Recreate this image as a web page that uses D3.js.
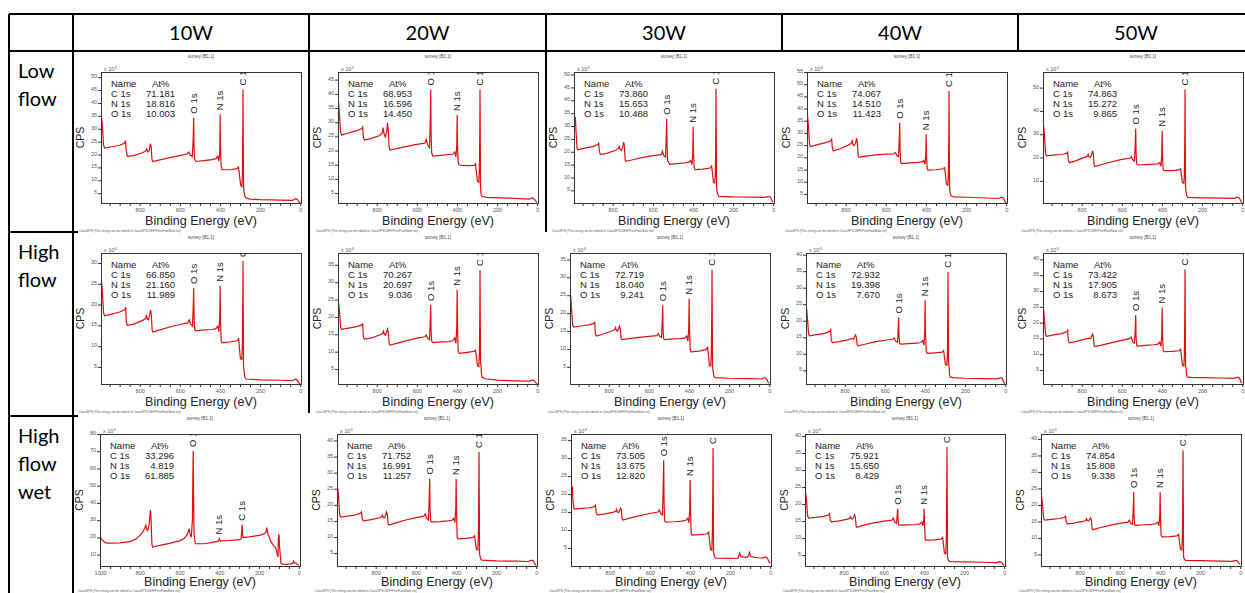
<!DOCTYPE html>
<html><head><meta charset="utf-8">
<script src="https://cdn.jsdelivr.net/npm/d3@7"></script>
<style>body{margin:0;background:#fff}svg{display:block}</style>
</head><body>
<svg id="c" width="1245" height="593"></svg>
<script>
// ---------- DATA ----------
const columns = ["10W", "20W", "30W", "40W", "50W"];
const rowLabels = [["Low", "flow"], ["High", "flow"], ["High", "flow", "wet"]];
const elements = ["C 1s", "N 1s", "O 1s"];
const peakLabels = [["O 1s", 531], ["N 1s", 399], ["C 1s", 285]];
const atC = [71.181, 68.953, 73.860, 74.067, 74.863, 66.850, 70.267, 72.719, 72.932, 73.422, 33.296, 71.752, 73.505, 75.921, 74.854];
const atN = [18.816, 16.596, 15.653, 14.510, 15.272, 21.160, 20.697, 18.040, 19.398, 17.905, 4.819, 16.991, 13.675, 15.650, 15.808];
const atO = [10.003, 14.450, 10.488, 11.423, 9.865, 11.989, 9.036, 9.241, 7.670, 8.673, 61.885, 11.257, 12.820, 8.429, 9.338];
const xTickLabels = [1000, 800, 600, 400, 200, 0];

// spectra: [binding energy (eV), counts (x10^3 CPS)]
const lowFlow10W = [[990,34],[986,31],[980,23.5],[975,22.5],[940,23],[900,23.6],[876,24.4],[871,25.3],[868,22],[862,19.3],[830,19.6],[790,20.6],[770,21.3],[765,22.2],[760,21],[752,21.6],[747,24.2],[743,23.3],[739,18],[735,17.3],[700,17.9],[650,18.8],[600,19.6],[565,20.2],[556,21],[548,19.8],[538,19.2],[533,27],[531,34.3],[529,22],[526,18.2],[520,17.3],[480,17.6],[440,18],[420,18.4],[411,19.3],[405,17.4],[401,21],[399,35.6],[397,22],[394,15.6],[390,14.1],[350,14.1],[315,14.5],[308,15.2],[303,12.3],[297,8.2],[291,7.5],[288,12],[286,30],[285,45.2],[284,30],[282.5,8],[280,5.6],[276,4],[270,3.1],[250,2.7],[200,2.5],[100,2.3],[40,2.2],[22,2.9],[14,2.6],[6,1.6],[0,1.1]];
const lowFlow20W = [[990,37],[986,33],[980,26.5],[975,25.5],[940,26.2],[900,27],[874,27.8],[870,28.3],[867,25],[862,23.7],[830,24.2],[785,25.3],[772,26.3],[768,28.1],[764,26],[757,24.8],[750,26.5],[746,29.8],[742,27],[738,21],[734,20.2],[700,20.7],[650,21.5],[600,22.2],[560,22.6],[553,24],[547,22],[537,21],[533,30],[531,41.5],[529,26],[526,19.2],[520,18],[480,18.3],[440,18.6],[420,18.7],[411,19.5],[405,17.8],[401,22],[399,32.5],[397,21],[394,16],[390,14.9],[350,14.7],[315,14.8],[308,15.3],[303,12.5],[298,9.2],[291,8.8],[288,13],[286,30],[285,41.5],[284,28],[282.5,7],[280,4.6],[275,3.8],[250,3.5],[150,3.2],[40,2.9],[22,3.3],[14,2.8],[6,2.1],[0,1.8]];
const lowFlow30W = [[990,32.5],[986,33],[983,28],[978,21.5],[975,20.8],[940,21.4],[900,22],[874,22.8],[870,23.3],[867,20.5],[862,18.9],[830,19.4],[785,20.6],[772,21.3],[768,22.1],[764,21],[757,20.5],[750,21.8],[746,23.7],[742,22.5],[738,17],[734,16.3],[700,16.9],[650,17.8],[600,18.5],[558,18.9],[552,20.2],[546,18.6],[537,18],[533,26],[531,32.8],[529,22],[526,16.5],[515,15.1],[480,15.4],[440,15.7],[420,16],[411,16.6],[405,15],[401,19],[399,29.7],[397,19],[394,14],[390,13.1],[350,13.3],[315,13.7],[307,14.5],[303,12],[298,8.2],[291,7.9],[288,12],[286,30],[285,44.5],[284,28],[282.5,7],[280,4.6],[275,3.2],[270,2.7],[200,2.5],[100,2.4],[40,2.3],[22,2.7],[14,2.4],[6,1],[0,0.4]];
const lowFlow40W = [[990,36.9],[986,33],[980,25],[975,24.4],[940,25.2],[900,26],[874,26.8],[870,27.4],[867,24],[862,22.7],[830,23.4],[785,25.1],[772,25.8],[768,26.8],[764,25.3],[757,24.8],[750,26],[746,27.9],[742,26],[738,20.6],[734,20],[700,20.5],[650,21],[600,21.3],[560,21.4],[552,22],[546,20.8],[537,20.3],[533,28],[531,34.2],[529,23],[526,18],[520,17.4],[480,17.7],[440,17.9],[420,18.1],[411,18.7],[405,17.2],[401,21],[399,29.5],[397,20],[394,15.6],[390,14.7],[350,14.9],[315,15.3],[307,15.8],[303,13],[298,9],[291,8.6],[288,13],[286,30],[285,47.2],[284,30],[282.5,8],[280,5.5],[275,4.2],[260,3.8],[200,3.6],[100,3.3],[40,3.1],[22,3.6],[14,3.2],[6,1.8],[0,1.2]];
const lowFlow50W = [[990,33.5],[986,30],[980,21.5],[975,20.7],[940,21],[900,21.3],[874,21.8],[870,22.6],[867,19],[862,17.8],[830,18.6],[785,20.2],[772,20.5],[768,21.4],[764,20.3],[757,20.1],[750,21.5],[746,22.9],[742,21.5],[738,16.6],[734,16.1],[700,17],[650,18.2],[600,19.2],[560,19.7],[552,20.4],[546,19],[537,18.5],[533,26],[531,32.5],[529,22],[526,17.3],[520,16.8],[480,17],[440,17.2],[420,17.3],[411,17.8],[405,16.2],[401,21],[399,31.5],[397,20],[394,15],[390,14.4],[350,14.4],[315,14.7],[307,15.2],[303,12.5],[298,9.3],[291,9],[288,13],[286,30],[285,49.2],[284,30],[282.5,7.5],[280,5],[275,3.3],[270,2.9],[200,2.7],[100,2.6],[40,2.5],[22,3],[14,2.6],[6,1.2],[0,0.7]];
const highFlow10W = [[990,25.5],[986,23],[980,18],[975,17.3],[940,17.7],[900,18.2],[874,18.8],[870,19.4],[867,15.8],[862,15],[830,15.3],[785,16.2],[770,16.7],[766,17.5],[762,16.5],[756,16.3],[750,17.5],[746,18.7],[742,17.5],[738,13.8],[734,13.4],[700,13.9],[650,14.6],[600,15.2],[560,15.6],[553,16.3],[546,15.2],[537,14.8],[533,20],[531,24],[529,17],[526,14],[520,13.7],[480,13.9],[440,14],[420,14.2],[411,14.8],[405,13.5],[401,17],[399,24.5],[397,16],[394,11.4],[390,10.8],[350,11],[315,11.3],[307,11.8],[303,9.5],[298,7],[291,6.8],[288,11],[286,22],[285,30.5],[284,22],[282.5,5],[280,4.2],[276,2.6],[270,2.1],[200,1.9],[100,1.8],[40,1.7],[22,2.1],[14,1.8],[6,1.1],[0,0.9]];
const highFlow20W = [[990,24.1],[986,22],[980,17],[975,16.4],[940,16.8],[900,17.2],[874,17.7],[870,18.2],[867,14.5],[862,13.6],[830,13.9],[785,14.8],[770,15.3],[766,15.9],[762,15],[756,14.8],[750,15.8],[746,16.5],[742,15.5],[738,12.3],[734,11.9],[700,12.4],[650,13.2],[600,13.9],[560,14.3],[553,14.8],[546,13.8],[537,13.4],[533,19],[531,23.4],[529,16],[526,13],[520,12.6],[480,12.8],[440,12.9],[420,13.2],[411,14],[405,12.4],[401,17],[399,27.8],[397,17],[394,10.4],[390,9.5],[350,9.8],[315,10.1],[307,10.5],[303,8.5],[298,6],[291,5.7],[288,10],[286,22],[285,33.5],[284,22],[282.5,6.5],[280,6.2],[278,3.5],[275,2.6],[260,2.2],[200,1.8],[100,1.6],[40,1.5],[22,1.9],[14,1.6],[6,1],[0,0.7]];
const highFlow30W = [[990,25],[986,22],[980,16.8],[975,16.1],[940,16.4],[900,16.7],[874,17.1],[870,17.6],[867,14.4],[862,13.6],[830,14.1],[785,15],[770,15.4],[766,16],[762,15.2],[756,15],[750,15.8],[746,16.4],[742,15.4],[738,12.9],[734,12.6],[700,12.9],[650,13.2],[600,13.5],[560,13.7],[553,14.3],[546,13.5],[537,13.2],[533,18],[531,22.2],[529,15.5],[526,12.8],[520,12.6],[480,12.8],[440,12.9],[420,13.1],[411,13.6],[405,12.2],[401,16],[399,24],[397,15],[394,9.9],[390,9.2],[350,9.4],[315,9.8],[307,10.5],[303,8.5],[298,5.3],[291,5.2],[288,10],[286,22],[285,32.1],[284,22],[282.5,5],[280,4.1],[276,2.5],[270,2],[200,1.8],[100,1.7],[40,1.6],[22,2],[14,1.7],[6,0.8],[0,0.4]];
const highFlow40W = [[990,23.7],[986,21],[980,16],[975,15.4],[940,15.8],[900,16.2],[874,16.8],[870,17.3],[867,14.2],[862,13.4],[830,13.7],[785,14.2],[770,14.5],[762,14.6],[756,14.4],[750,15.2],[746,15.7],[742,15],[738,12.7],[734,12.4],[700,12.9],[650,13.6],[600,14.1],[560,14.4],[553,14.8],[546,13.8],[537,13.5],[533,18],[531,21],[529,15],[526,13.1],[520,12.9],[480,13.1],[440,13.2],[420,13.4],[411,14],[405,12.6],[401,17],[399,26.2],[397,16],[394,10.8],[390,10.1],[350,10.3],[315,10.5],[307,11],[303,9],[298,6.7],[291,6.5],[288,10],[286,24],[285,34.8],[284,24],[282.5,7],[280,6.5],[278,4],[275,3],[260,2.8],[200,2.6],[100,2.5],[40,2.4],[22,2.8],[14,2.5],[6,1.3],[0,1]];
const highFlow50W = [[990,24.2],[986,21],[980,16.3],[975,15.7],[940,16.1],[900,16.5],[874,17.1],[870,17.6],[867,14.4],[862,13.6],[830,14],[785,14.8],[770,15],[762,15.1],[756,14.9],[750,15.8],[746,16.4],[742,15.5],[738,12.7],[734,12.4],[700,12.9],[650,13.7],[600,14.4],[560,15],[553,15.4],[546,14],[537,13.5],[533,18],[531,22.4],[529,15.5],[526,12.8],[520,12.6],[480,12.8],[440,13],[420,13.2],[411,13.8],[405,12.5],[401,16],[399,24.8],[397,16],[394,11.3],[390,10.8],[350,10.9],[315,11.1],[307,11.6],[303,9.5],[298,6.5],[291,6.3],[288,10],[286,24],[285,36.8],[284,24],[282.5,6.2],[280,5.8],[278,3.8],[275,2.9],[260,2.7],[200,2.6],[100,2.5],[40,2.4],[22,2.8],[14,2.5],[6,1.3],[0,1]];
const wet10W = [[1000,21.2],[995,19.5],[990,18.5],[975,17],[960,16.7],[900,16.8],[850,17.5],[820,19],[800,21],[785,23],[775,25.5],[770,27],[765,24.5],[760,24],[752,28],[748,34],[746,35.8],[743,30],[739,16],[735,14.4],[700,15.4],[650,16.5],[600,18],[575,19.5],[560,22],[552,25.1],[547,22],[541,20],[535,30],[533,55],[531,70.2],[529,40],[527,22],[524,19],[520,16.4],[480,16.3],[440,17],[405,17.8],[399,19.3],[395,17.8],[350,18.2],[300,18.7],[290,19.2],[287,24],[285,27.4],[283,22],[280,19.9],[250,20.3],[200,21.2],[175,22],[165,23],[161,25.7],[158,24],[155,21.5],[150,20.6],[145,19],[140,17.4],[125,15],[115,13.5],[108,10],[105,8.7],[103,18],[101,21.8],[99,20.9],[97,15],[94,10.8],[90,5],[80,4.5],[60,4.4],[40,4.6],[30,5],[26,6.2],[22,5.2],[15,5],[6,4.2],[0,3.8]];
const wet20W = [[990,25.2],[986,23.5],[980,17],[975,16.2],[940,16.5],[900,16.9],[876,17.4],[871,17.8],[867,15.6],[862,15],[830,15.3],[785,15.9],[770,16.3],[766,16.8],[762,16.1],[756,16],[750,17],[746,17.8],[742,17],[738,14.1],[734,13.7],[700,14.4],[650,15.3],[600,16],[560,16.5],[553,17.2],[546,15.8],[537,15.3],[533,23],[531,28.2],[529,19],[526,15],[520,14.7],[480,14.8],[440,15],[420,15.2],[411,15.8],[405,14.5],[401,19],[399,28],[397,18],[394,10],[390,9.4],[350,9.6],[315,9.9],[307,10.4],[303,8.5],[298,6.2],[291,6],[288,11],[286,25],[285,36.4],[284,25],[282.5,5],[280,4],[276,3.1],[270,2.8],[200,2.6],[100,2.5],[40,2.4],[22,2.8],[14,2.5],[6,1.6],[0,1.2]];
const wet30W = [[990,21.5],[987,22.2],[983,18],[978,16],[975,15.8],[940,16],[900,16.2],[876,16.5],[871,16.9],[867,14.8],[862,14.2],[830,14.4],[785,14.9],[770,15.2],[766,15.7],[762,15],[756,14.9],[750,15.6],[746,16.1],[742,15.5],[738,13.1],[734,12.8],[700,13.3],[650,14],[600,14.6],[560,15],[553,15.6],[546,14.6],[537,14.2],[533,23],[531,29.4],[529,18],[526,12.5],[520,12.2],[480,12.3],[440,12.5],[420,12.7],[411,13.3],[405,12],[401,16],[399,23.9],[397,15],[394,9.1],[390,8.6],[350,8.7],[315,8.9],[307,9.4],[303,7.5],[298,4.6],[291,4.4],[288,10],[286,22],[285,32.8],[284,22],[282.5,4],[280,3.2],[276,2.4],[270,2.2],[200,2.1],[160,2.2],[152,3.6],[146,2.6],[120,2.4],[110,2.7],[103,3.8],[98,2.6],[60,2.3],[40,2.2],[22,2.5],[14,2.2],[6,1.2],[0,0.8]];
const wet40W = [[990,23.2],[986,21.5],[980,16.5],[975,15.9],[940,16.1],[900,16.4],[876,16.8],[871,17.2],[867,15.3],[862,14.8],[830,15],[785,15.5],[770,15.8],[766,16.3],[762,15.7],[756,15.6],[750,16.3],[746,16.9],[742,16.2],[738,13.5],[734,13.2],[700,13.8],[650,14.5],[600,15],[560,15.3],[553,15.9],[546,14.8],[537,14.4],[533,17],[531,18.6],[529,15.5],[526,13.9],[520,13.8],[480,13.9],[440,14],[420,14.2],[411,14.7],[405,13.6],[401,15.5],[399,18.6],[397,14],[394,9.8],[390,9.4],[350,9.5],[315,9.7],[307,10.2],[303,8.2],[298,5.6],[291,5.4],[288,11],[286,26],[285,36.8],[284,26],[282.5,4.5],[280,3.8],[276,3.3],[270,3.1],[200,3],[100,2.9],[40,2.8],[22,3.1],[14,2.9],[6,2.3],[0,2]];
const wet50W = [[990,22.4],[986,20.5],[980,16],[975,15.4],[940,15.6],[900,15.9],[876,16.2],[871,16.6],[867,14.8],[862,14.3],[830,14.5],[785,15],[770,15.3],[766,15.8],[762,15.2],[756,15.1],[750,15.6],[746,16.1],[742,15.4],[738,12.8],[734,12.5],[700,13.1],[650,13.8],[600,14.4],[560,14.8],[553,15.4],[546,14.5],[537,14.1],[533,19],[531,23.9],[529,16.5],[526,13.9],[520,13.8],[480,14],[440,14.1],[420,14.3],[411,14.8],[405,13.7],[401,17],[399,23.9],[397,15],[394,10.7],[390,10.3],[350,10.4],[315,10.6],[307,11.1],[303,9],[298,6.6],[291,6.4],[288,11],[286,26],[285,36.6],[284,26],[282.5,4.5],[280,3.8],[276,3.4],[270,3.2],[200,3.1],[100,3],[40,2.9],[22,3.2],[14,3],[6,2.3],[0,2]];

const spectra = [lowFlow10W, lowFlow20W, lowFlow30W, lowFlow40W, lowFlow50W,
  highFlow10W, highFlow20W, highFlow30W, highFlow40W, highFlow50W,
  wet10W, wet20W, wet30W, wet40W, wet50W];

// ---------- LAYOUT (positions / scales only) ----------
const W = 1245, H = 593;
const colLines = [73, 309, 546, 782, 1018];
const rowTops = [72, 253, 434];
const rowH = [131, 131, 132];
const frameLefts = [[101, 338, 574, 807, 1043], [101, 338, 570, 806, 1043], [100, 337, 571, 805, 1041]];
const yDomains = [
  [[1.2, 52], [1.5, 47.7], [0.1, 51], [1.25, 55], [0.5, 56.7]],
  [[0.9, 32.4], [0.7, 38.4], [0.2, 36.8], [0.86, 40.5], [0.6, 42]],
  [[3.4, 80], [1, 42], [0, 36.7], [1.8, 40.6], [1.5, 41.5]]
];
const ySteps = [[5, 5, 5, 5, 10], [5, 5, 5, 5, 5], [10, 5, 5, 5, 5]];
const frameW = 200;
const red = "#dc1010";

const svg = d3.select("#c");
svg.append("rect").attr("width", W).attr("height", H).attr("fill", "#fff");

// table grid
const grid = svg.append("g").attr("stroke", "#000").attr("stroke-width", 1.3).attr("shape-rendering", "crispEdges");
grid.append("line").attr("x1", 9).attr("x2", W).attr("y1", 14).attr("y2", 14);
grid.append("line").attr("x1", 9).attr("x2", W).attr("y1", 51).attr("y2", 51);
grid.append("line").attr("x1", 9).attr("x2", 9).attr("y1", 14).attr("y2", H);
grid.append("line").attr("x1", 73).attr("x2", 73).attr("y1", 14).attr("y2", H);
grid.append("line").attr("x1", 309).attr("x2", 309).attr("y1", 14).attr("y2", 413);
grid.append("line").attr("x1", 546).attr("x2", 546).attr("y1", 14).attr("y2", 232);
grid.append("line").attr("x1", 782).attr("x2", 782).attr("y1", 14).attr("y2", 51);
grid.append("line").attr("x1", 1018).attr("x2", 1018).attr("y1", 14).attr("y2", 51);
grid.append("line").attr("x1", 9).attr("x2", 78).attr("y1", 232).attr("y2", 232);
grid.append("line").attr("x1", 9).attr("x2", 78).attr("y1", 416).attr("y2", 416);

// header
const font = "Lato, 'Open Sans', sans-serif";
columns.forEach((c, i) => {
  const x0 = colLines[i], x1 = i < 4 ? colLines[i + 1] : 1254;
  svg.append("text").attr("x", (x0 + x1) / 2).attr("y", 40).attr("text-anchor", "middle")
    .attr("font-family", font).attr("font-size", 20).text(c);
});
const rowLabelBase = [77.7, 259, 443.3];
rowLabels.forEach((lines, r) => {
  lines.forEach((t, k) => {
    svg.append("text").attr("x", 18).attr("y", rowLabelBase[r] + k * 27.8)
      .attr("font-family", font).attr("font-size", 20).text(t);
  });
});

const sans = "'Liberation Sans', Arial, sans-serif";
const fmt = d3.format(".3f");

spectra.forEach((data, idx) => {
  const r = Math.floor(idx / 5), c = idx % 5;
  const left = frameLefts[r][c], top = rowTops[r], h = rowH[r];
  const xDom = (r === 2 && c === 0) ? [1000, -6] : [993, -4];
  const x = d3.scaleLinear().domain(xDom).range([left, left + frameW]);
  const y = d3.scaleLinear().domain(yDomains[r][c]).range([top + h, top]);
  const g = svg.append("g");
  const clipId = "clip" + idx;
  svg.append("clipPath").attr("id", clipId).append("rect")
    .attr("x", left).attr("y", top).attr("width", frameW).attr("height", h);

  const beY = r === 2 ? top + h + 20 : top + h + 22;
  const footY = r === 2 ? top + h + 26 : top + h + 28.5;

  // small captions
  g.append("text").attr("x", left + frameW / 2).attr("y", top - 14).attr("text-anchor", "middle")
    .attr("font-family", sans).attr("font-size", 4.5).attr("fill", "#444").text("survey [B1,1]");
  g.append("text").attr("x", left - 22).attr("y", footY).attr("font-family", sans)
    .attr("font-size", 3.2).attr("fill", "#555")
    .text("CasaXPS (This string can be edited in CasaXPS.DEF/PrintFootNote.txt)");

  // axes
  const [y0, y1] = yDomains[r][c];
  const step = ySteps[r][c];
  const yt = d3.range(Math.ceil(y0 / step) * step, y1 + 0.01, step).filter(v => v > 0);
  const ya = g.append("g").attr("transform", `translate(${left},0)`)
    .call(d3.axisLeft(y).tickValues(yt).tickSize(3).tickPadding(1).tickFormat(d3.format("d")));
  ya.select(".domain").remove();
  ya.selectAll("line").attr("stroke", "#333");
  ya.selectAll("text").attr("font-family", sans).attr("font-size", 5.5).attr("fill", "#555").attr("dy", "0.1em");

  const minor = d3.range(0, xDom[0] + 1, 50);
  const xa = g.append("g").attr("transform", `translate(0,${top + h})`)
    .call(d3.axisBottom(x).tickValues(minor).tickSize(3).tickFormat(""));
  xa.select(".domain").remove();
  xa.selectAll("line").attr("stroke", "#333");
  const labs = xTickLabels.filter(v => v <= xDom[0]);
  const xl = g.append("g").attr("transform", `translate(0,${top + h})`)
    .call(d3.axisBottom(x).tickValues(labs).tickSize(0).tickPadding(5).tickFormat(d3.format("d")));
  xl.select(".domain").remove();
  xl.selectAll("text").attr("font-family", sans).attr("font-size", 5.5).attr("fill", "#555");

  g.append("text").attr("x", left + 3).attr("y", top - 1).attr("font-family", sans)
    .attr("font-size", 5.5).attr("fill", "#555").text("x 10").append("tspan")
    .attr("dy", -2.5).attr("font-size", 4).text("3");

  // titles
  g.append("text").attr("transform", `translate(${left - 17},${top + h / 2}) rotate(-90)`)
    .attr("text-anchor", "middle").attr("font-family", sans).attr("font-size", 10.5)
    .attr("fill", "#222").text("CPS");
  g.append("text").attr("x", left + frameW / 2).attr("y", beY).attr("text-anchor", "middle")
    .attr("font-family", sans).attr("font-size", 12.5).attr("fill", "#222").text("Binding Energy (eV)");

  // spectrum
  const line = d3.line().x(d => x(d[0])).y(d => y(d[1]));
  g.append("path").datum(data).attr("d", line).attr("fill", "none").attr("stroke", red)
    .attr("stroke-width", 1.2).attr("clip-path", `url(#${clipId})`);

  // frame
  g.append("rect").attr("x", left).attr("y", top).attr("width", frameW).attr("height", h)
    .attr("fill", "none").attr("stroke", "#333").attr("stroke-width", 1).attr("shape-rendering", "crispEdges");

  // quantification table
  const tx = left + 10, ty = top + 15;
  const tg = g.append("g").attr("font-family", sans).attr("font-size", 9.5).attr("fill", "#222");
  tg.append("text").attr("x", tx).attr("y", ty).text("Name");
  tg.append("text").attr("x", tx + 41).attr("y", ty).text("At%");
  const vals = [atC[idx], atN[idx], atO[idx]];
  elements.forEach((e, k) => {
    tg.append("text").attr("x", tx).attr("y", ty + 10 * (k + 1)).text(e);
    tg.append("text").attr("x", tx + 64).attr("y", ty + 10 * (k + 1)).attr("text-anchor", "end").text(fmt(vals[k]));
  });

  // peak labels
  const lg = g.append("g").attr("clip-path", `url(#${clipId})`);
  peakLabels.forEach(([name, e]) => {
    const near = data.filter(d => Math.abs(d[0] - e) <= 3);
    const peak = d3.max(near, d => d[1]);
    const py = y(peak) - 4;
    lg.append("text").attr("transform", `translate(${x(e) + 3},${py}) rotate(-90)`)
      .attr("font-family", sans).attr("font-size", 9.5).attr("fill", "#222").text(name);
  });
});
</script>
</body></html>
